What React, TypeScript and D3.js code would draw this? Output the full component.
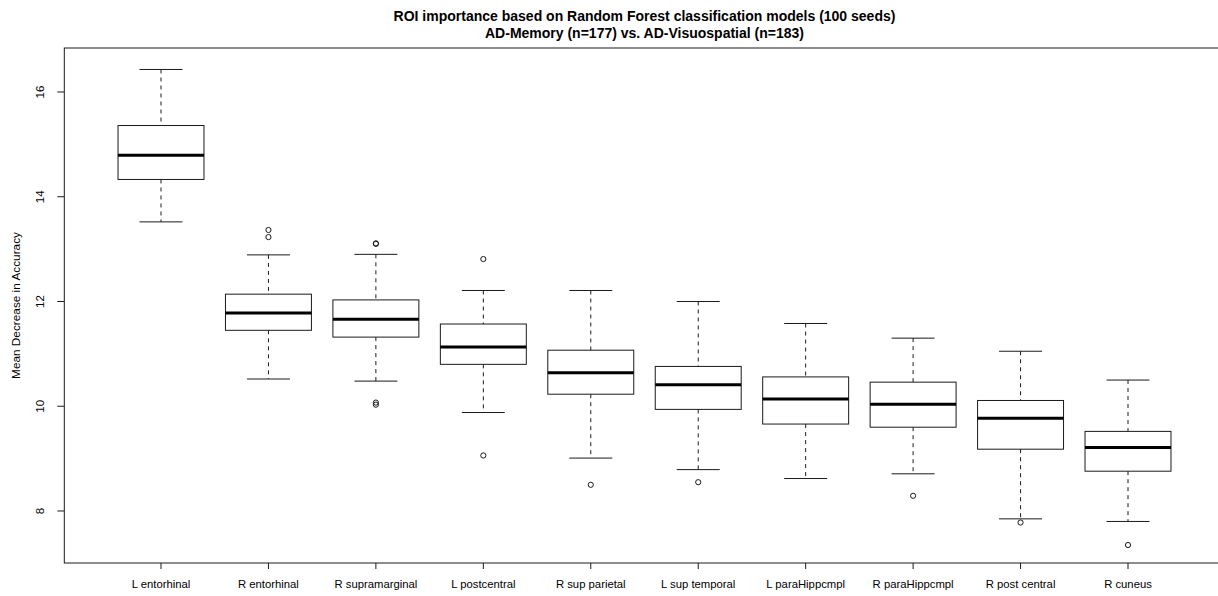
import React from "react";
import * as d3 from "d3";

// ROI labels, in plotted order
const regions = [
  "L entorhinal",
  "R entorhinal",
  "R supramarginal",
  "L postcentral",
  "R sup parietal",
  "L sup temporal",
  "L paraHippcmpl",
  "R paraHippcmpl",
  "R post central",
  "R cuneus",
];

// Five-number summaries per ROI
const lowerWhisker = [13.52, 10.52, 10.48, 9.88, 9.01, 8.79, 8.62, 8.71, 7.85, 7.8];
const q1 = [14.33, 11.45, 11.32, 10.8, 10.23, 9.94, 9.66, 9.6, 9.18, 8.76];
const median = [14.79, 11.78, 11.66, 11.13, 10.64, 10.41, 10.14, 10.04, 9.77, 9.21];
const q3 = [15.36, 12.14, 12.03, 11.57, 11.07, 10.76, 10.56, 10.46, 10.11, 9.52];
const upperWhisker = [16.43, 12.89, 12.9, 12.21, 12.21, 12.0, 11.58, 11.3, 11.05, 10.5];

// Outlying seeds per ROI
const outliers: number[][] = [
  [],
  [13.365, 13.23],
  [13.1, 13.11, 10.03, 10.07],
  [12.81, 9.06],
  [8.5],
  [8.55],
  [],
  [8.29],
  [7.78],
  [7.35],
];

const yTicks = [8, 10, 12, 14, 16];
const yDomain = [7.007, 16.84];

const titleLines = [
  "ROI importance based on Random Forest classification models (100 seeds)",
  "AD-Memory (n=177) vs. AD-Visuospatial (n=183)",
];
const yLabel = "Mean Decrease in Accuracy";

const W = 1218;
const H = 596;
const FONT = "'Liberation Sans', Arial, sans-serif";

export default function App() {
  const n = regions.length;

  const y = d3.scaleLinear().domain(yDomain).range([563, 48]);
  const xPad = n * 0.04;
  const x = d3
    .scaleLinear()
    .domain([0.5 - xPad, n + 0.5 + xPad])
    .range([64.3, 1224.7]);

  const unit = x(2) - x(1);
  const boxW = unit * 0.8;
  const capW = boxW * 0.5;
  const stroke = "#1a1a1a";

  const plotLeft = x.range()[0];
  const plotRight = x.range()[1];
  const plotTop = y.range()[1];
  const plotBottom = y.range()[0];
  const titleX = (plotLeft + plotRight) / 2;

  return (
    <svg
      width={W}
      height={H}
      style={{ position: "absolute", left: 0, top: 0, background: "#fff" }}
      fontFamily={FONT}
    >
      <rect x={0} y={0} width={W} height={H} fill="#fff" />

      {/* title */}
      <text x={titleX} y={21} textAnchor="middle" fontSize={14} fontWeight="bold" fill="#000">
        {titleLines[0]}
      </text>
      <text x={titleX} y={38} textAnchor="middle" fontSize={14} fontWeight="bold" fill="#000">
        {titleLines[1]}
      </text>

      {/* boxes */}
      {regions.map((r, i) => {
        const cx = x(i + 1);
        return (
          <g key={r}>
            <line
              x1={cx}
              x2={cx}
              y1={y(upperWhisker[i])}
              y2={y(q3[i])}
              stroke={stroke}
              strokeDasharray="4 4"
            />
            <line
              x1={cx}
              x2={cx}
              y1={y(q1[i])}
              y2={y(lowerWhisker[i])}
              stroke={stroke}
              strokeDasharray="4 4"
            />
            <line
              x1={cx - capW / 2}
              x2={cx + capW / 2}
              y1={y(upperWhisker[i])}
              y2={y(upperWhisker[i])}
              stroke={stroke}
            />
            <line
              x1={cx - capW / 2}
              x2={cx + capW / 2}
              y1={y(lowerWhisker[i])}
              y2={y(lowerWhisker[i])}
              stroke={stroke}
            />
            <rect
              x={cx - boxW / 2}
              y={y(q3[i])}
              width={boxW}
              height={y(q1[i]) - y(q3[i])}
              fill="none"
              stroke={stroke}
            />
            <line
              x1={cx - boxW / 2}
              x2={cx + boxW / 2}
              y1={y(median[i])}
              y2={y(median[i])}
              stroke="#000"
              strokeWidth={3}
            />
            {outliers[i].map((v, j) => (
              <circle key={j} cx={cx} cy={y(v)} r={2.6} fill="none" stroke={stroke} strokeWidth={1} />
            ))}
          </g>
        );
      })}

      {/* plot frame */}
      <rect
        x={plotLeft}
        y={plotTop}
        width={plotRight - plotLeft}
        height={plotBottom - plotTop}
        fill="none"
        stroke={stroke}
      />

      {/* y axis */}
      {yTicks.map((t) => (
        <g key={t}>
          <line x1={plotLeft - 7} x2={plotLeft} y1={y(t)} y2={y(t)} stroke={stroke} />
          <text
            transform={`translate(${plotLeft - 20},${y(t)}) rotate(-90)`}
            textAnchor="middle"
            fontSize={11.5}
            fill="#000"
          >
            {t}
          </text>
        </g>
      ))}
      <text
        transform={`translate(20,${(plotTop + plotBottom) / 2}) rotate(-90)`}
        textAnchor="middle"
        fontSize={11.8}
        fill="#000"
      >
        {yLabel}
      </text>

      {/* x axis */}
      {regions.map((r, i) => (
        <g key={r}>
          <line x1={x(i + 1)} x2={x(i + 1)} y1={plotBottom} y2={plotBottom + 6} stroke={stroke} />
          <text x={x(i + 1)} y={plotBottom + 25} textAnchor="middle" fontSize={11.3} fill="#000">
            {r}
          </text>
        </g>
      ))}
    </svg>
  );
}
